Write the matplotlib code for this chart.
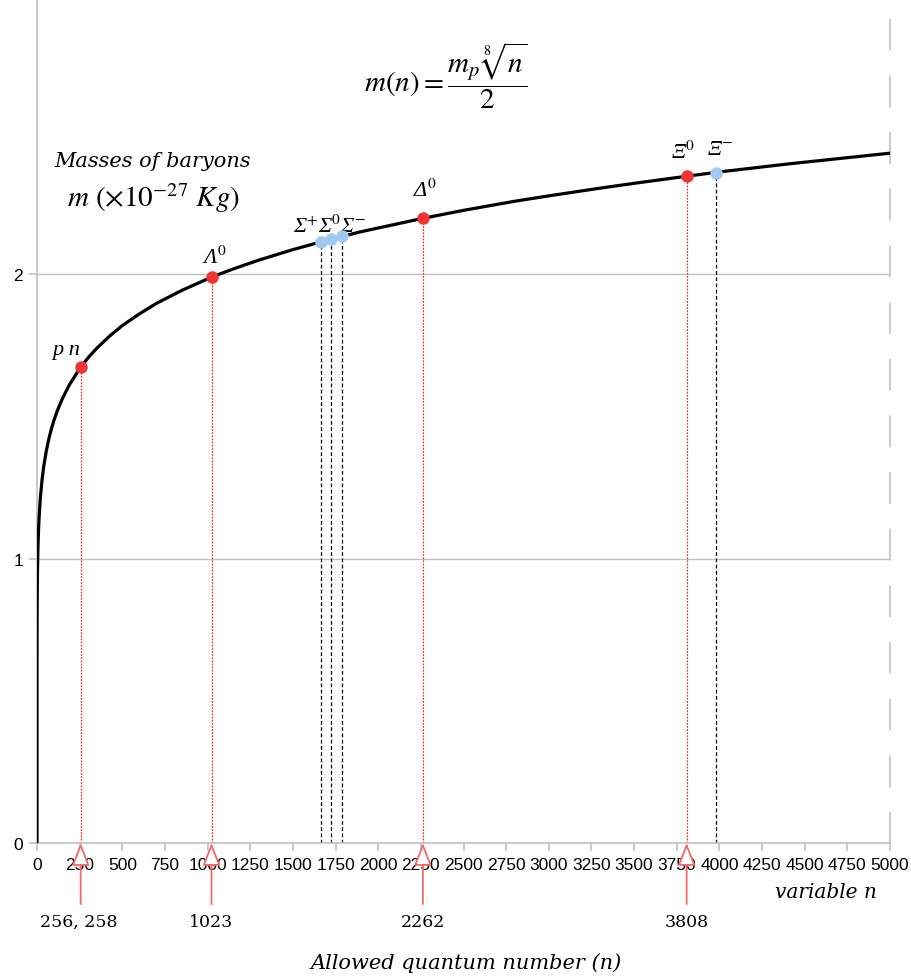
import matplotlib
matplotlib.use('Agg')
import matplotlib.pyplot as plt

# curve m(n)
n_curve = [0, 0.001, 0.01, 0.05, 0.2, 0.5, 1, 2, 3, 5, 7, 10, 15, 20, 30, 40,
           55, 70, 85, 100, 120, 150, 190, 256, 300, 350, 420, 500, 600, 700,
           850, 1023, 1150, 1300, 1500, 1700, 1900, 2262, 2500, 2800, 3000,
           3300, 3500, 3808, 4000, 4400, 4700, 5000]
m_curve = [0, 0.353, 0.470, 0.575, 0.684, 0.767, 0.836, 0.912, 0.959, 1.023,
           1.067, 1.115, 1.173, 1.216, 1.279, 1.326, 1.380, 1.422, 1.457,
           1.487, 1.521, 1.564, 1.611, 1.673, 1.706, 1.739, 1.779, 1.819,
           1.860, 1.897, 1.943, 1.989, 2.018, 2.049, 2.086, 2.119, 2.149,
           2.196, 2.224, 2.256, 2.275, 2.302, 2.319, 2.344, 2.359, 2.387,
           2.406, 2.425]

# baryons on the curve
red_n = [256, 1023, 2262, 3808]
red_m = [1.673, 1.989, 2.196, 2.344]
blue_n = [1663, 1723, 1788, 3980]
blue_m = [2.113, 2.123, 2.133, 2.357]

# allowed quantum numbers (arrows under the axis)
arrow_n = [256, 1023, 2262, 3808]
arrow_labels = ['256, 258', '1023', '2262', '3808']

xticks = list(range(0, 5001, 250))
yticks = [0, 1, 2]

plt.rcParams['mathtext.fontset'] = 'stix'
grey = '#c0c0c0'
red = '#f03434'
pink = '#f06a6a'
blue = '#9ec9f0'
serif = 'DejaVu Serif'

fig = plt.figure(figsize=(9.12, 9.79), dpi=100)
ax = fig.add_axes([37/912, 135/979, 853/912, 844/979])

ax.set_xlim(0, 5000)
ax.set_ylim(0, 2.967)

# grid and frame
for y in [1, 2]:
    ax.axhline(y, color=grey, lw=1, zorder=1)
ax.spines['top'].set_visible(False)
ax.spines['left'].set_color(grey)
ax.spines['bottom'].set_color(grey)
ax.spines['right'].set_color(grey)
ax.spines['right'].set_linestyle((0, (18, 16)))
for s in ['left', 'bottom', 'right']:
    ax.spines[s].set_linewidth(1.2)

ax.set_xticks(xticks)
ax.set_xticklabels([str(t) for t in xticks], fontsize=12.5, family='Liberation Sans')
ax.set_yticks(yticks)
ax.set_yticklabels([str(t) for t in yticks], fontsize=12.5, family='Liberation Sans')
ax.tick_params(axis='both', color=grey, length=6, width=1.2, pad=4)

# drop lines
for n, m in zip(red_n, red_m):
    ax.plot([n, n], [0, m], color=red, lw=0.9, ls=(0, (1.5, 1)), zorder=2)
for n, m in zip(blue_n, blue_m):
    ax.plot([n, n], [0, m], color='black', lw=0.9, ls=(0, (3, 2)), zorder=2)

# main curve
ax.plot(n_curve, m_curve, color='black', lw=2.3, zorder=3,
        solid_capstyle='round', solid_joinstyle='round')

ax.plot(red_n, red_m, 'o', color=red, ms=9, mec='none', zorder=4)
ax.plot(blue_n, blue_m, 'o', color=blue, ms=9, mec='none', zorder=4)

# particle labels
lab = dict(fontsize=16, family=['Liberation Serif', 'DejaVu Serif'],
           style='italic', ha='center', va='center')
zero = r'$^{\mathit{0}}$'
ax.text(170, 1.735, 'p n', **lab)
ax.text(1043, 2.06, 'Λ' + zero, **lab)
ax.text(1712, 2.17, 'Σ' + r'$^{+}$' + 'Σ' + zero + 'Σ' + r'$^{-}$', **lab)
ax.text(2274, 2.295, 'Δ' + zero, **lab)
ax.text(3787, 2.43, 'Ξ' + zero, **lab)
ax.text(4003, 2.437, 'Ξ' + r'$^{-}$', **lab)

# formula and axis titles
ax.text(2397, 2.70, r'$m(n)=\dfrac{m_p\,\sqrt[8]{n}}{2}$', fontsize=21,
        ha='center', va='center')
ax.text(680, 2.40, 'Masses of baryons', fontsize=15, family=serif,
        style='italic', ha='center', va='center')
ax.text(680, 2.27, r'$m\ (\times 10^{-27}\ Kg)$', fontsize=21,
        ha='center', va='center')
ax.text(4924, -0.17, 'variable n', fontsize=14.5, family=serif,
        style='italic', ha='right', va='center', clip_on=False)

# arrows for allowed quantum numbers
for n, lbl in zip(arrow_n, arrow_labels):
    ax.annotate('', xy=(n, 0), xytext=(n, -0.215), annotation_clip=False,
                arrowprops=dict(arrowstyle='-|>,head_width=0.55,head_length=1.4',
                                fc='white', ec=pink, lw=1.3,
                                shrinkA=0, shrinkB=0))
    ax.text(n - 13 if lbl.startswith('256') else n, -0.275, lbl, fontsize=12.5,
            family=serif, ha='center', va='center', clip_on=False)

fig.text(466/912, 1 - 963/979, 'Allowed quantum number (n)', fontsize=15,
         family=serif, style='italic', ha='center', va='center')

fig.savefig('out.png', dpi=100)
